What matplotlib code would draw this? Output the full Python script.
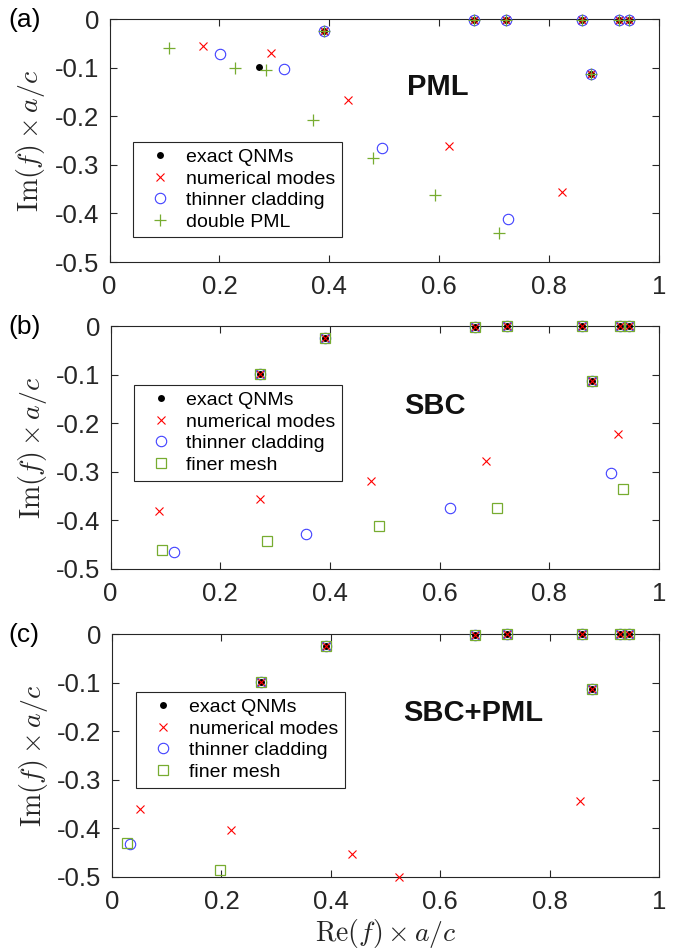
import matplotlib
matplotlib.use("Agg")
import matplotlib.pyplot as plt

plt.rcParams['font.family'] = ['Liberation Sans', 'DejaVu Sans']
plt.rcParams['mathtext.fontset'] = 'cm'
plt.rcParams['axes.unicode_minus'] = False

# ---- data ----
exact_re = [0.272, 0.391, 0.664, 0.722, 0.860, 0.877, 0.928, 0.945]
exact_im = [-0.098, -0.025, -0.002, -0.001, -0.001, -0.113, -0.001, -0.001]

# Panel (a) PML
a_num_re = [0.391, 0.664, 0.722, 0.860, 0.877, 0.928, 0.945, 0.170, 0.294, 0.434, 0.618, 0.824]
a_num_im = [-0.025, -0.002, -0.001, -0.001, -0.113, -0.001, -0.001, -0.056, -0.070, -0.167, -0.262, -0.355]
a_thin_re = [0.391, 0.664, 0.722, 0.860, 0.877, 0.928, 0.945, 0.202, 0.317, 0.496, 0.725]
a_thin_im = [-0.025, -0.002, -0.001, -0.001, -0.113, -0.001, -0.001, -0.072, -0.102, -0.265, -0.412]
a_dbl_re = [0.391, 0.664, 0.722, 0.860, 0.877, 0.928, 0.945, 0.109, 0.229, 0.284, 0.370, 0.480, 0.593, 0.708]
a_dbl_im = [-0.025, -0.002, -0.001, -0.001, -0.113, -0.001, -0.001, -0.059, -0.101, -0.105, -0.207, -0.286, -0.361, -0.440]

# Panel (b) SBC
b_num_re = [0.272, 0.391, 0.664, 0.722, 0.860, 0.877, 0.928, 0.945, 0.089, 0.272, 0.475, 0.685, 0.926]
b_num_im = [-0.098, -0.025, -0.002, -0.001, -0.001, -0.113, -0.001, -0.001, -0.380, -0.355, -0.319, -0.277, -0.223]
b_thin_re = [0.272, 0.391, 0.664, 0.722, 0.860, 0.877, 0.928, 0.945, 0.116, 0.357, 0.619, 0.912]
b_thin_im = [-0.098, -0.025, -0.002, -0.001, -0.001, -0.113, -0.001, -0.001, -0.464, -0.429, -0.375, -0.303]
b_fine_re = [0.272, 0.391, 0.664, 0.722, 0.860, 0.877, 0.928, 0.945, 0.093, 0.285, 0.489, 0.704, 0.935]
b_fine_im = [-0.098, -0.025, -0.002, -0.001, -0.001, -0.113, -0.001, -0.001, -0.460, -0.442, -0.412, -0.375, -0.336]

# Panel (c) SBC+PML
c_num_re = [0.272, 0.391, 0.664, 0.722, 0.860, 0.877, 0.928, 0.945, 0.051, 0.218, 0.438, 0.525, 0.856]
c_num_im = [-0.098, -0.025, -0.002, -0.001, -0.001, -0.113, -0.001, -0.001, -0.361, -0.404, -0.452, -0.499, -0.343]
c_thin_re = [0.272, 0.391, 0.664, 0.722, 0.860, 0.877, 0.928, 0.945, 0.032]
c_thin_im = [-0.098, -0.025, -0.002, -0.001, -0.001, -0.113, -0.001, -0.001, -0.433]
c_fine_re = [0.272, 0.391, 0.664, 0.722, 0.860, 0.877, 0.928, 0.945, 0.027, 0.197]
c_fine_im = [-0.098, -0.025, -0.002, -0.001, -0.001, -0.113, -0.001, -0.001, -0.431, -0.485]

xticks = [0, 0.2, 0.4, 0.6, 0.8, 1]
xticklabels = ['0', '0.2', '0.4', '0.6', '0.8', '1']
yticks = [0, -0.1, -0.2, -0.3, -0.4, -0.5]
yticklabels = ['0', '-0.1', '-0.2', '-0.3', '-0.4', '-0.5']

panel_labels = ['(a)', '(b)', '(c)']
panel_titles = ['PML', 'SBC', 'SBC+PML']
title_pos = [(0.598, -0.139), (0.591, -0.164), (0.661, -0.163)]
legend_labels_a = ['exact QNMs', 'numerical modes', 'thinner cladding', 'double PML']
legend_labels_bc = ['exact QNMs', 'numerical modes', 'thinner cladding', 'finer mesh']

GREEN = (0.466, 0.674, 0.188)
AXC = '#262626'

W, H = 673, 949
fig = plt.figure(figsize=(W / 100, H / 100), dpi=100)

# axes rectangles in pixels: left, right, top, bottom
rects = [(109.5, 659, 19.3, 262), (110.5, 659, 326, 569), (112, 659, 634, 877)]
legend_boxes = [(0.043, 0.496), (0.042, 0.758), (0.044, 0.762)]

series = [
    (a_num_re, a_num_im, a_thin_re, a_thin_im, a_dbl_re, a_dbl_im),
    (b_num_re, b_num_im, b_thin_re, b_thin_im, b_fine_re, b_fine_im),
    (c_num_re, c_num_im, c_thin_re, c_thin_im, c_fine_re, c_fine_im),
]

for i, (l, r, t, b) in enumerate(rects):
    ax = fig.add_axes([l / W, 1 - b / H, (r - l) / W, (b - t) / H])
    nre, nim, tre, tim, fre, fim = series[i]
    h1, = ax.plot(exact_re, exact_im, 'o', color='k', ms=5, mew=0, ls='none', clip_on=False, zorder=3)
    h2, = ax.plot(nre, nim, 'x', color='r', ms=5.5, mew=0.8, ls='none', clip_on=False, zorder=4)
    h3, = ax.plot(tre, tim, 'o', mfc='none', mec=(0.25, 0.25, 1.0), ms=7.5, mew=0.8, ls='none', clip_on=False, zorder=5)
    if i == 0:
        h4, = ax.plot(fre, fim, '+', color=GREEN, ms=8, mew=0.9, ls='none', clip_on=False, zorder=6)
        labels = legend_labels_a
    else:
        h4, = ax.plot(fre, fim, 's', mfc='none', mec=GREEN, ms=7.5, mew=0.9, ls='none', clip_on=False, zorder=6)
        labels = legend_labels_bc

    ax.set_xlim(0, 1)
    ax.set_ylim(-0.5, 0)
    ax.set_xticks(xticks)
    ax.set_xticklabels(xticklabels)
    ax.set_yticks(yticks)
    ax.set_yticklabels(yticklabels)
    ax.tick_params(direction='in', top=True, right=True, length=5, width=0.8,
                   colors=AXC, labelsize=18.5)
    ax.tick_params(axis='x', pad=9.5)
    ax.tick_params(axis='y', pad=7.5)
    for s in ax.spines.values():
        s.set_color(AXC)
        s.set_linewidth(0.8)

    ax.set_ylabel(r'$\mathrm{Im}(f)\times a/c$', fontsize=20, color=AXC, va='center')
    ax.yaxis.set_label_coords(-0.143, 0.5)

    ax.text(title_pos[i][0], title_pos[i][1], panel_titles[i], fontsize=21,
            fontweight='bold', ha='center', va='center', color='#111111')

    leg = ax.legend([h1, h2, h3, h4], labels, loc='upper left',
                    bbox_to_anchor=legend_boxes[i], fontsize=14, frameon=True,
                    fancybox=False, edgecolor=AXC, framealpha=1,
                    handlelength=2.1, handletextpad=0.25, borderpad=0.35,
                    labelspacing=0.2, borderaxespad=0)
    leg.get_frame().set_linewidth(0.8)

    fig.text(8 / W, 1 - (t + 1) / H, panel_labels[i], fontsize=19, ha='left',
             va='center', color='k')

    if i == 2:
        ax.set_xlabel(r'$\mathrm{Re}(f)\times a/c$', fontsize=20, color=AXC, va='center')
        ax.xaxis.set_label_coords(0.5, -56 / 243)

fig.savefig('out.png', dpi=100)
